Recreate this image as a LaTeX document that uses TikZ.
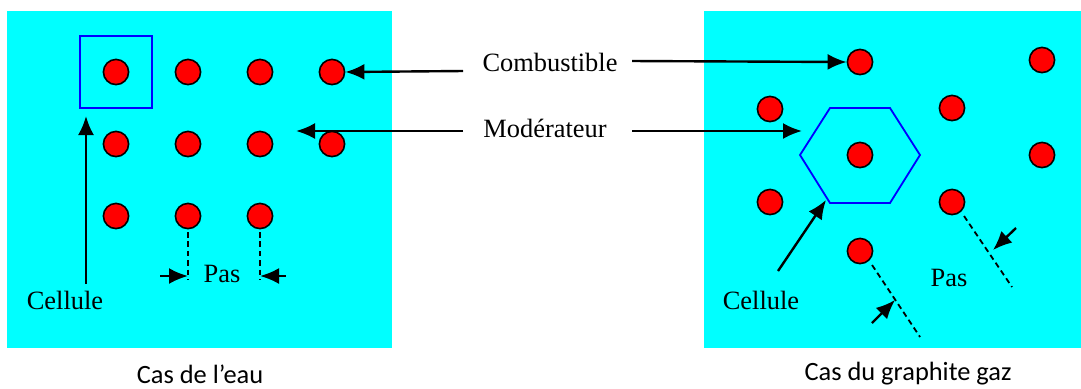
\documentclass[tikz,border=0pt]{standalone}
\usepackage{fontspec}
\setmainfont{Liberation Serif}
\newfontfamily\capfont{Carlito}
\usetikzlibrary{arrows.meta}

\definecolor{moder}{RGB}{0,255,255}
\definecolor{fuelred}{RGB}{255,0,0}
\definecolor{cellblue}{RGB}{0,0,255}

\tikzset{
  fuel/.style={circle,draw=black,fill=fuelred,line width=0.8pt,minimum size=12.6pt,inner sep=0pt},
  arr/.style={-{Latex[length=9.5pt,width=8pt]},line width=1.2pt},
  pitch/.style={dash pattern=on 2.8pt off 1.9pt,line width=0.9pt},
  cellbox/.style={draw=cellblue,line width=0.9pt},
  lbl/.style={inner sep=0pt,font=\fontsize{13.2}{15}\selectfont},
  caption/.style={inner sep=0pt,font=\capfont\fontsize{13.2}{15}\selectfont}
}

\begin{document}
\begin{tikzpicture}[x=0.5pt,y=-0.5pt]
\useasboundingbox (0,0) rectangle (1081,388);
% the two moderator blocks
\fill[moder] (7,11) rectangle (392,348);
\fill[moder] (704,11) rectangle (1081,348);

% square lattice (water)
\node[fuel] (c11) at (116,72) {};
\node[fuel] (c12) at (188,72) {};
\node[fuel] (c13) at (260,72) {};
\node[fuel] (c14) at (332,72) {};
\node[fuel] (c21) at (116,144) {};
\node[fuel] (c22) at (188,144) {};
\node[fuel] (c23) at (260,144) {};
\node[fuel] (c24) at (332,144) {};
\node[fuel] (c31) at (116,216) {};
\node[fuel] (c32) at (188,216) {};
\node[fuel] (c33) at (260,216) {};
\draw[cellbox] (80,36) rectangle (152,108);

% triangular lattice (graphite)
\node[fuel] (g1) at (860,62) {};
\node[fuel] (g2) at (1042,60) {};
\node[fuel] (g3) at (770,109) {};
\node[fuel] (g4) at (952,108) {};
\node[fuel] (g5) at (860,155) {};
\node[fuel] (g6) at (1042,155) {};
\node[fuel] (g7) at (770,202) {};
\node[fuel] (g8) at (952,202) {};
\node[fuel] (g9) at (860,251) {};
\draw[cellbox] (800,155) -- (830,108) -- (890,108) -- (920,155)
	-- (890,203) -- (830,203) -- cycle;

% labels in the middle
\node[lbl] (comb) at (550,62) {Combustible};
\node[lbl] (mod) at (545,128) {Modérateur};
\coordinate (combL) at (463,71);
\coordinate (combR) at (632,61);
\coordinate (modL) at (463,131);
\coordinate (modR) at (632,131);
\coordinate (modtipL) at (296,131);
\coordinate (modtipR) at (802,131);
\draw[arr] (combL) -- (c14.east);
\draw[arr] (combR) -- (g1.west);
\draw[arr] (modL) -- (modtipL);
\draw[arr] (modR) -- (modtipR);

% cell arrows
\node[lbl] (cellW) at (65,300) {Cellule};
\node[lbl] (cellG) at (761,300) {Cellule};
\coordinate (cellWa) at (86,284);
\coordinate (cellWb) at (86,116);
\coordinate (cellGa) at (778,271);
\coordinate (cellGb) at (826,200);
\draw[arr] (cellWa) -- (cellWb);
\draw[arr] (cellGa) -- (cellGb);

% pitch, square lattice
\coordinate (p1a) at (188,232);
\coordinate (p1b) at (188,280);
\coordinate (p2a) at (260,232);
\coordinate (p2b) at (260,280);
\draw[pitch] (p1a) -- (p1b);
\draw[pitch] (p2a) -- (p2b);
\coordinate (q1) at (160,276);
\coordinate (q2) at (286,276);
\draw[arr] (q1) -- (p1b |- q1);
\draw[arr] (q2) -- (p2b |- q2);
\node[lbl] (pasW) at (222,274) {Pas};

% pitch, triangular lattice
\coordinate (r1a) at (964,216);
\coordinate (r1b) at (1012,287);
\coordinate (r2a) at (872,265);
\coordinate (r2b) at (920,337);
\draw[pitch] (r1a) -- (r1b);
\draw[pitch] (r2a) -- (r2b);
\coordinate (s1a) at (1016,228);
\coordinate (s1b) at (993,250);
\coordinate (s2a) at (872,323);
\coordinate (s2b) at (895,300);
\draw[arr] (s1a) -- (s1b);
\draw[arr] (s2a) -- (s2b);
\node[lbl] (pasG) at (949,278) {Pas};

% captions
\node[caption] (capW) at (200,374) {Cas de l’eau};
\node[caption] (capG) at (908,374) {Cas du graphite gaz};
\end{tikzpicture}
\end{document}
